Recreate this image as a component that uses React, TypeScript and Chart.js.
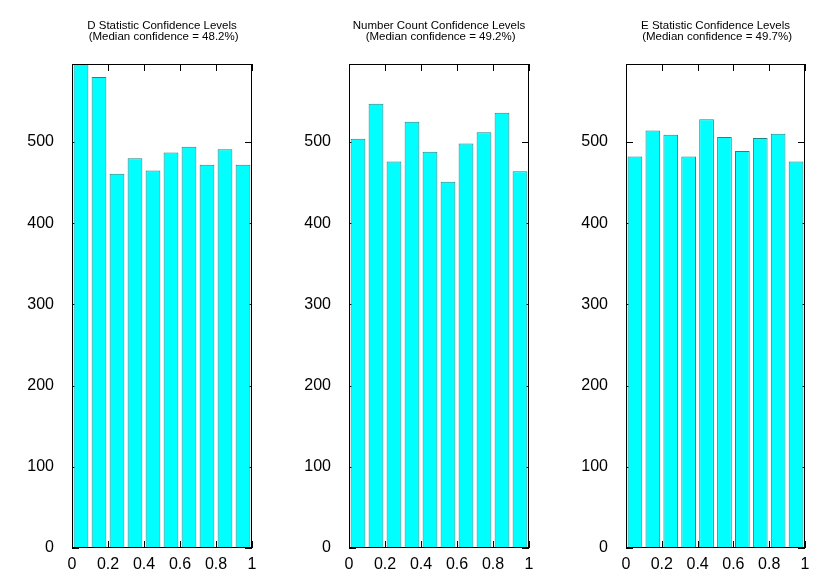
import React, { useEffect, useRef } from "react";
import { Chart, registerables } from "chart.js";

Chart.register(...registerables);

const binCenters = [0.05, 0.15, 0.25, 0.35, 0.45, 0.55, 0.65, 0.75, 0.85, 0.95];
const xTickValues = [0, 0.2, 0.4, 0.6, 0.8, 1];
const yTickValues = [0, 100, 200, 300, 400, 500];

const dStatistic = [596, 580, 461, 480, 465, 487, 494, 472, 491, 472];
const numberCount = [504, 547, 476, 525, 488, 451, 498, 512, 536, 464];
const eStatistic = [482, 514, 509, 482, 528, 506, 489, 505, 510, 476];

const titles = [
  ["D Statistic Confidence Levels", " (Median confidence = 48.2%)"],
  ["Number Count Confidence Levels", " (Median confidence = 49.2%)"],
  ["E Statistic Confidence Levels", " (Median confidence = 49.7%)"],
];

const Y_MAX = 596;
const FONT = "'Liberation Sans', Arial, Helvetica, sans-serif";

const framePlugin = {
  id: "gnuplotFrame",
  beforeDatasetsDraw(chart: any) {
    const { ctx, chartArea } = chart;
    const xs = chart.scales.x;
    const ys = chart.scales.y;
    const len = 7;
    ctx.save();
    ctx.strokeStyle = "#000";
    ctx.lineWidth = 1;
    ctx.beginPath();
    xTickValues.forEach((v) => {
      const px = Math.round(xs.getPixelForValue(v)) + 0.5;
      ctx.moveTo(px, chartArea.top);
      ctx.lineTo(px, chartArea.top + len);
      ctx.moveTo(px, chartArea.bottom);
      ctx.lineTo(px, chartArea.bottom - len);
    });
    yTickValues.forEach((v) => {
      const py = Math.round(ys.getPixelForValue(v)) + 0.5;
      ctx.moveTo(chartArea.left, py);
      ctx.lineTo(chartArea.left + len, py);
      ctx.moveTo(chartArea.right, py);
      ctx.lineTo(chartArea.right - len, py);
    });
    ctx.stroke();
    ctx.restore();
  },
  afterDatasetsDraw(chart: any) {
    const { ctx, chartArea } = chart;
    ctx.save();
    ctx.strokeStyle = "#000";
    ctx.lineWidth = 1;
    const l = Math.round(chartArea.left) + 0.5;
    const t = Math.round(chartArea.top) + 0.5;
    const r = Math.round(chartArea.right) - 0.5;
    const b = Math.round(chartArea.bottom) - 0.5;
    ctx.strokeRect(l, t, r - l, b - t);
    ctx.restore();
  },
};

function Panel({ values, title, width }: { values: number[]; title: string[]; width: number }) {
  const ref = useRef<HTMLCanvasElement | null>(null);
  useEffect(() => {
    if (!ref.current) return;
    const chart = new Chart(ref.current, {
      type: "bar",
      data: {
        datasets: [
          {
            data: binCenters.map((x, i) => ({ x, y: values[i] })),
            backgroundColor: "#00ffff",
            borderColor: "#1f8585",
            borderWidth: 1,
            categoryPercentage: 1,
            barPercentage: 0.82,
          },
        ],
      },
      options: {
        animation: false,
        responsive: false,
        devicePixelRatio: 1,
        layout: { padding: { left: 0, right: 25, top: 0, bottom: 0 } },
        plugins: {
          legend: { display: false },
          tooltip: { enabled: false },
          title: {
            display: true,
            text: title,
            fullSize: false,
            color: "#000",
            font: { family: FONT, size: 11.5, weight: "normal", lineHeight: 11 / 11.5 },
            padding: { top: 20.5, bottom: 21.5 },
          },
        },
        scales: {
          x: {
            type: "linear",
            min: 0,
            max: 1,
            offset: false,
            grid: { display: false, offset: false },
            border: { display: false },
            afterBuildTicks: (s: any) => {
              s.ticks = xTickValues.map((v) => ({ value: v }));
            },
            afterFit: (s: any) => {
              s.height = 33;
            },
            ticks: {
              color: "#000",
              font: { family: FONT, size: 16 },
              padding: -1,
              maxRotation: 0,
              autoSkip: false,
              callback: (v: any) => String(v),
            },
          },
          y: {
            type: "linear",
            min: 0,
            max: Y_MAX,
            grid: { display: false },
            border: { display: false },
            afterBuildTicks: (s: any) => {
              s.ticks = yTickValues.map((v) => ({ value: v }));
            },
            afterFit: (s: any) => {
              s.width = 72;
            },
            ticks: {
              color: "#000",
              font: { family: FONT, size: 16 },
              padding: 10,
              autoSkip: false,
              callback: (v: any) => String(v),
            },
          },
        },
      },
      plugins: [framePlugin],
    } as any);
    return () => chart.destroy();
  }, [values, title]);
  return <canvas ref={ref} width={width} height={581} style={{ display: "block" }} />;
}

export default function App() {
  return (
    <div
      style={{
        position: "fixed",
        left: 0,
        top: 0,
        width: 830,
        height: 581,
        background: "#fff",
        display: "flex",
      }}
    >
      <Panel values={dStatistic} title={titles[0]} width={277} />
      <Panel values={numberCount} title={titles[1]} width={277} />
      <Panel values={eStatistic} title={titles[2]} width={276} />
    </div>
  );
}
